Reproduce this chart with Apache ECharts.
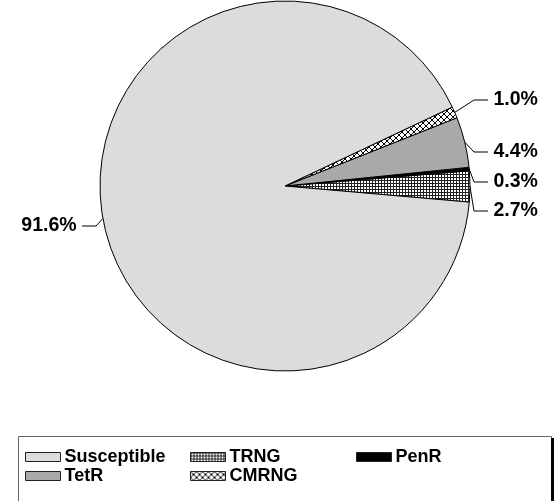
<!DOCTYPE html>
<html><head><meta charset="utf-8">
<script src="https://cdn.jsdelivr.net/npm/echarts@6/dist/echarts.min.js"></script>
<style>html,body{margin:0;padding:0;background:#fff}#c{width:554px;height:501px}</style>
</head><body><div id="c"></div>
<script>
// ---- data ----
const categories = ['TRNG', 'PenR', 'TetR', 'CMRNG', 'Susceptible'];
const values = [2.7, 0.3, 4.4, 1.0, 91.6];
const legendColumns = [['Susceptible', 'TetR'], ['TRNG', 'CMRNG'], ['PenR']];

// ---- styles ----
function makePattern(size, draw) {
  const c = document.createElement('canvas');
  c.width = size; c.height = size;
  const g = c.getContext('2d');
  g.fillStyle = '#fff'; g.fillRect(0, 0, size, size);
  draw(g, size);
  return { image: c, repeat: 'repeat' };
}
const gridPat = makePattern(3, (g) => { g.fillStyle = '#222'; g.fillRect(0, 0, 3, 1); g.fillRect(0, 0, 1, 3); });
const crossPat = makePattern(6, (g, s) => {
  g.fillStyle = '#000';
  for (let i = 0; i < s; i++) { g.fillRect(i, i, 1, 1); g.fillRect(s - 1 - i, i, 1, 1); }
});
const fills = { TRNG: gridPat, PenR: '#000000', TetR: '#a9a9a9', CMRNG: crossPat, Susceptible: '#dcdcdc' };
// label anchor positions [x, y, align]
const labelPos = {
  TRNG: [488, 211, 'left'],
  PenR: [488, 182, 'left'],
  TetR: [488, 152, 'left'],
  CMRNG: [488, 100, 'left'],
  Susceptible: [82, 226, 'right']
};
const font = '"Liberation Sans", Arial, sans-serif';

const chart = echarts.init(document.getElementById('c'), null, { renderer: 'canvas' });
const legendLeft = [25, 190, 356];
chart.setOption({
  animation: false,
  backgroundColor: '#fff',
  graphic: [
    { type: 'rect', z: 0, shape: { x: 18.5, y: 436.5, width: 533, height: 80 }, style: { fill: '#fff', stroke: '#666', lineWidth: 1 } },
    { type: 'rect', z: 0, shape: { x: 551, y: 438, width: 3, height: 70 }, style: { fill: '#000' } }
  ],
  legend: legendColumns.map((col, i) => ({
    data: col,
    orient: 'vertical',
    left: legendLeft[i],
    top: 448,
    itemWidth: 35,
    itemHeight: 9,
    itemGap: 1,
    icon: 'rect',
    padding: 0,
    selectedMode: false,
    textStyle: { fontSize: 18, fontWeight: 'bold', fontFamily: font, color: '#000', padding: [0, 0, 0, -1], lineHeight: 18 },
    itemStyle: { borderColor: '#222', borderWidth: 1 }
  })),
  series: [{
    type: 'pie',
    center: [285, 186],
    radius: 185,
    startAngle: -5,
    clockwise: false,
    avoidLabelOverlap: false,
    itemStyle: { borderColor: '#000', borderWidth: 1 },
    label: {
      show: true, position: 'outside',
      fontSize: 19.5, fontWeight: 'bold', fontFamily: font, color: '#000',
      formatter: (p) => {
        const t = p.value.toFixed(1) + '%';
        return labelPos[p.name][2] === 'left' ? ' ' + t : t + ' ';
      }
    },
    labelLine: { show: true, length: 8, length2: 14, lineStyle: { color: '#000', width: 1 } },
    labelLayout: (p) => {
      const pos = labelPos[categories[p.dataIndex]];
      return { x: pos[0], y: pos[1], align: pos[2], verticalAlign: 'middle' };
    },
    emphasis: { disabled: true },
    data: categories.map((name, i) => ({ name, value: values[i], itemStyle: { color: fills[name] } }))
  }]
});
</script>
</body></html>
